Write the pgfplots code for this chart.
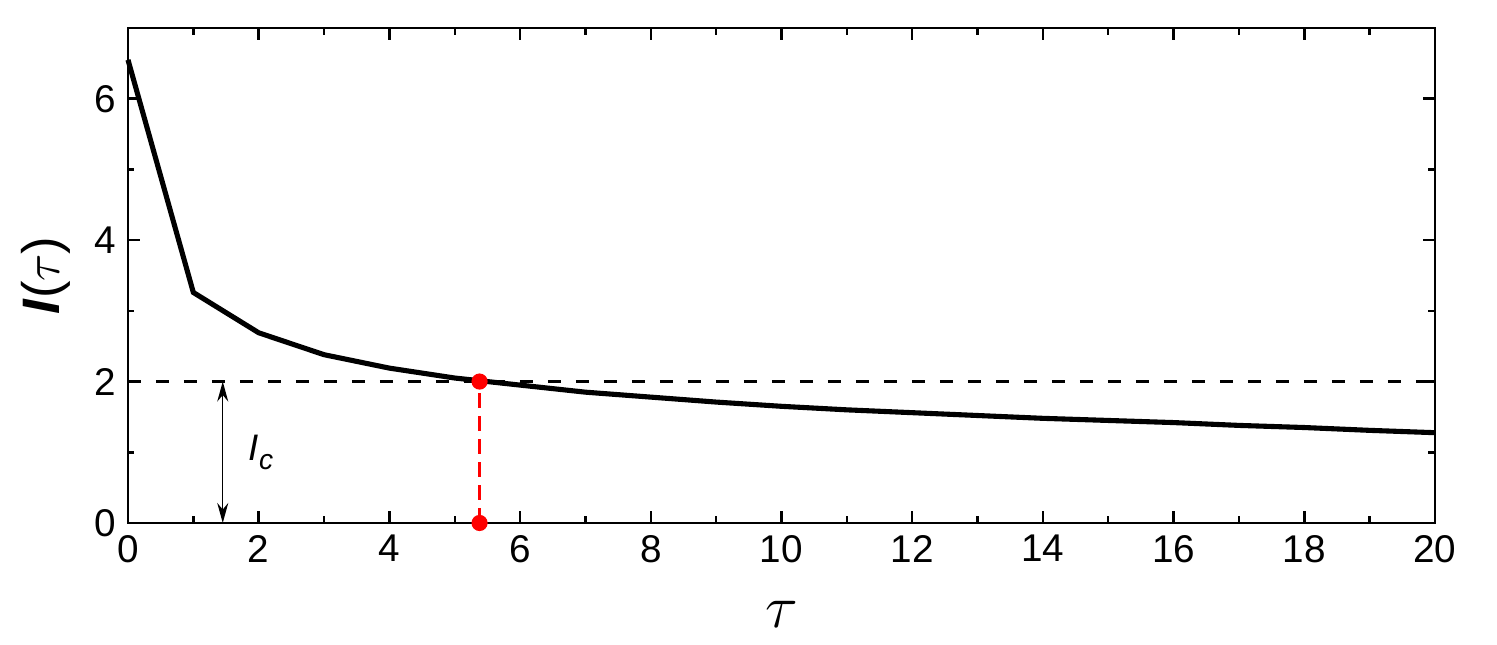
\documentclass[border=0pt]{standalone}
\usepackage{fontspec}
\setmainfont{Liberation Sans}
\usepackage{pgfplots}
\pgfplotsset{compat=1.18}
\usetikzlibrary{arrows.meta}

\begin{document}
\begin{tikzpicture}
\begin{axis}[
    at={(0,0)}, anchor=south west,
    scale only axis,
    width=13.07cm, height=4.95cm,
    xmin=0, xmax=20, ymin=0, ymax=7,
    xtick={0,2,...,20}, ytick={0,2,4,6},
    minor x tick num=1, minor y tick num=1,
    tick align=inside,
    tick style={black, line width=0.7pt},
    major tick length=0.12cm, minor tick length=0.065cm,
    axis line style={line width=0.8pt},
    ticklabel style={font=\fontsize{11}{13}\selectfont},
    /pgf/number format/assume math mode=true,
    xlabel={\fontsize{16}{18}\selectfont $\tau$},
    ylabel={\fontsize{15}{17}\selectfont \textit{\textbf{I}}($\tau$)},
    xlabel style={yshift=-4pt},
    clip=false,
]
% main curve
\addplot[black, line width=1.45pt] coordinates {
    (0,6.55)(1,3.26)(2,2.69)(3,2.38)(4,2.19)(5,2.05)(6,1.95)(7,1.85)
    (8,1.78)(9,1.71)(10,1.65)(11,1.60)(12,1.56)(13,1.52)(14,1.48)
    (15,1.45)(16,1.42)(17,1.38)(18,1.35)(19,1.31)(20,1.277)
};
% threshold I_c
\addplot[black, line width=0.9pt, dash pattern=on 0.13cm off 0.15cm] coordinates {(0,2)(20,2)};
% crossing
\addplot[red, line width=0.9pt, dash pattern=on 0.15cm off 0.08cm] coordinates {(5.38,0)(5.38,2)};
\addplot[red, only marks, mark=*, mark size=2.1pt] coordinates {(5.38,0)(5.38,2)};
% I_c arrow
\addplot[black, line width=0.4pt, {Stealth[length=0.2cm,width=0.11cm]}-{Stealth[length=0.2cm,width=0.11cm]}] coordinates {(1.45,0)(1.45,2)};
\node[anchor=west, font=\fontsize{10.5}{12}\selectfont] at (axis cs:1.66,1.0) {\textit{I}\raisebox{-0.45ex}{\fontsize{8}{9}\selectfont\textit{c}}};
\end{axis}
\pgfresetboundingbox
\useasboundingbox (-1.28,-1.22) rectangle (13.69,5.23);
\end{tikzpicture}
\end{document}
